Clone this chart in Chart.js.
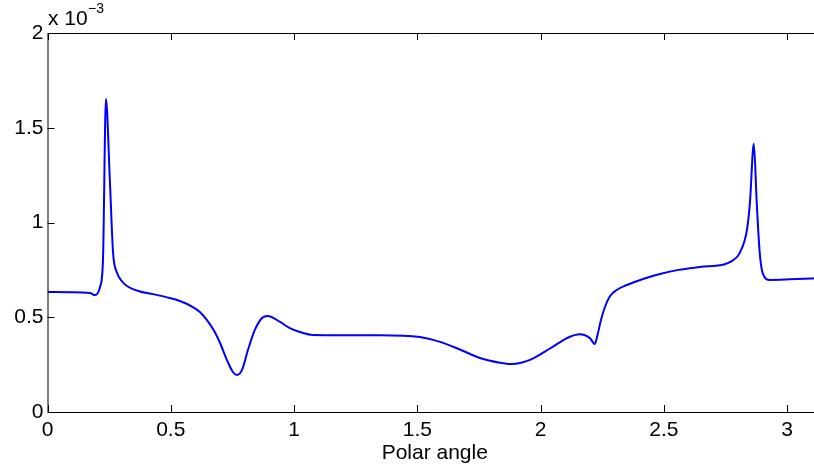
<!DOCTYPE html>
<html>
<head>
<meta charset="utf-8">
<script src="https://cdn.jsdelivr.net/npm/chart.js@4/dist/chart.umd.min.js"></script>
<style>
  body { margin: 0; background: #fff; overflow: hidden; }
  #wrap { width: 814px; height: 473px; overflow: hidden; }
</style>
</head>
<body>
<div id="wrap"><canvas id="polarChart" width="840" height="473"></canvas></div>
<script>
// Data (y values in units of 10^-3)
const polarAngle = [0, 0.09, 0.172, 0.193, 0.213, 0.225, 0.237, 0.253, 0.266, 0.282, 0.302, 0.322, 0.375, 0.428, 0.485, 0.537, 0.590, 0.618, 0.647, 0.675, 0.700, 0.728, 0.752, 0.768, 0.789, 0.813, 0.841, 0.870, 0.894, 0.943, 0.983, 1.024, 1.077, 1.186, 1.349, 1.51, 1.592, 1.673, 1.754, 1.835, 1.883, 1.957, 2.038, 2.078, 2.119, 2.159, 2.200, 2.220, 2.229, 2.245, 2.261, 2.282, 2.309, 2.350, 2.416, 2.484, 2.560, 2.646, 2.747, 2.780, 2.808, 2.837, 2.849, 2.865, 2.877, 2.889, 2.901, 2.930, 3.011, 3.1416];
const amplitude = [0.633, 0.632, 0.628, 0.617, 0.66, 0.80, 1.652, 1.22, 0.84, 0.735, 0.69, 0.665, 0.636, 0.622, 0.605, 0.586, 0.554, 0.528, 0.485, 0.43, 0.364, 0.274, 0.211, 0.195, 0.222, 0.327, 0.433, 0.496, 0.507, 0.475, 0.443, 0.422, 0.406, 0.405, 0.405, 0.396, 0.37, 0.33, 0.285, 0.26, 0.253, 0.275, 0.335, 0.368, 0.397, 0.41, 0.39, 0.359, 0.396, 0.485, 0.554, 0.612, 0.644, 0.67, 0.702, 0.728, 0.75, 0.765, 0.78, 0.80, 0.84, 0.96, 1.10, 1.415, 1.10, 0.84, 0.733, 0.697, 0.700, 0.707];
const xTickValues = [0, 0.5, 1, 1.5, 2, 2.5, 3];
const yTickValues = [0, 0.5, 1, 1.5, 2];
const xLabel = 'Polar angle';

const FONT = '"Liberation Sans", Arial, sans-serif';

const points = polarAngle.map((x, i) => ({ x: x, y: amplitude[i] }));

// MATLAB style box with inward ticks and the exponent label
const boxPlugin = {
    id: 'box',
    afterDraw(chart) {
        const ctx = chart.ctx;
        const a = chart.chartArea;
        const xs = chart.scales.x;
        const ys = chart.scales.y;
        ctx.save();
        ctx.strokeStyle = '#000';
        ctx.lineWidth = 1;
        ctx.beginPath();
        ctx.rect(a.left + 0.5, a.top + 0.5, a.right - a.left, a.bottom - a.top);
        xTickValues.forEach(v => {
            const px = Math.round(xs.getPixelForValue(v)) + 0.5;
            ctx.moveTo(px, a.bottom); ctx.lineTo(px, a.bottom - 7);
            ctx.moveTo(px, a.top); ctx.lineTo(px, a.top + 7);
        });
        yTickValues.forEach(v => {
            const py = Math.round(ys.getPixelForValue(v)) + 0.5;
            ctx.moveTo(a.left, py); ctx.lineTo(a.left + 7, py);
            ctx.moveTo(a.right, py); ctx.lineTo(a.right - 7, py);
        });
        ctx.stroke();

        ctx.fillStyle = '#000';
        ctx.textBaseline = 'alphabetic';
        ctx.textAlign = 'left';
        ctx.font = '21px ' + FONT;
        ctx.fillText('x 10', 48, 25);
        ctx.font = '14px ' + FONT;
        ctx.fillText('\u22123', 88, 13);
        ctx.restore();
    }
};

new Chart(document.getElementById('polarChart'), {
    type: 'line',
    data: {
        datasets: [{
            data: points,
            borderColor: '#0000ff',
            borderWidth: 2,
            pointRadius: 0,
            fill: false,
            cubicInterpolationMode: 'monotone'
        }]
    },
    options: {
        responsive: false,
        animation: false,
        layout: { padding: { top: 33, right: 18, left: 0, bottom: 0 } },
        plugins: { legend: { display: false }, tooltip: { enabled: false } },
        scales: {
            x: {
                type: 'linear',
                min: 0,
                max: Math.PI,
                afterBuildTicks: s => { s.ticks = xTickValues.map(v => ({ value: v })); },
                afterFit: s => { s.height = 61; },
                grid: { display: false, drawTicks: false },
                border: { display: false },
                ticks: { color: '#000', font: { family: FONT, size: 21 }, padding: 6, maxRotation: 0, callback: v => String(v) },
                title: { display: true, text: xLabel, color: '#000', font: { family: FONT, size: 21 }, padding: { top: 0, bottom: 7 } }
            },
            y: {
                min: 0,
                max: 2,
                afterBuildTicks: s => { s.ticks = yTickValues.map(v => ({ value: v })); },
                afterFit: s => { s.width = 47.5; },
                grid: { display: false, drawTicks: false },
                border: { display: false },
                ticks: { color: '#000', font: { family: FONT, size: 21 }, padding: 4, callback: v => String(v) }
            }
        }
    },
    plugins: [boxPlugin]
});
</script>
</body>
</html>
